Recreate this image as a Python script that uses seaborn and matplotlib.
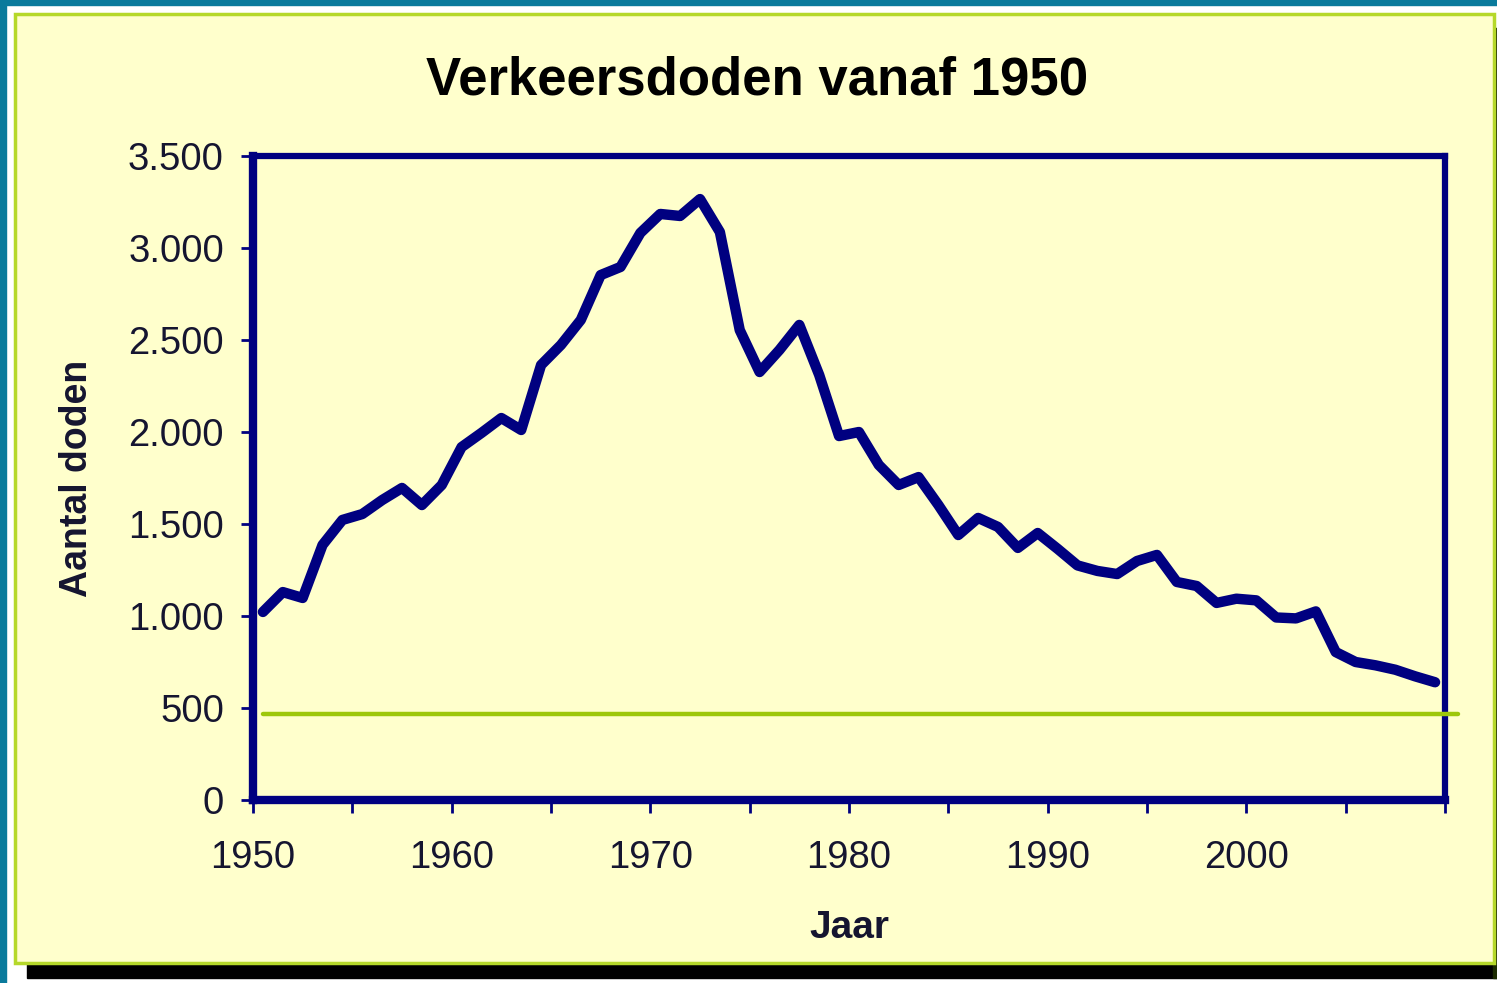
import pandas as pd
import seaborn as sns
import matplotlib.pyplot as plt
from matplotlib.patches import Rectangle

# road deaths in the Netherlands
years = list(range(1950, 2010))
deaths = [1022, 1130, 1098, 1386, 1522, 1554, 1630, 1696, 1603, 1712,
          1918, 1995, 2076, 2011, 2364, 2473, 2609, 2853, 2897, 3082,
          3185, 3174, 3266, 3087, 2554, 2326, 2446, 2582, 2310, 1978,
          2000, 1821, 1712, 1755, 1603, 1440, 1533, 1484, 1370, 1451,
          1365, 1275, 1245, 1228, 1299, 1332, 1185, 1163, 1071, 1094,
          1085, 992, 987, 1025, 804, 750, 732, 708, 672, 640]

y_ticks = [0, 500, 1000, 1500, 2000, 2500, 3000, 3500]
y_tick_labels = ["0", "500", "1.000", "1.500", "2.000", "2.500", "3.000", "3.500"]
x_ticks = list(range(1950, 2011, 5))
x_tick_labels = ["1950", "", "1960", "", "1970", "", "1980", "", "1990", "", "2000", "", ""]
target_level = 470

title = "Verkeersdoden vanaf 1950"
x_label = "Jaar"
y_label = "Aantal doden"

navy = "#000080"
panel = "#FFFFCC"

sns.set_style("white")
plt.rcParams["font.family"] = ["Liberation Sans", "DejaVu Sans"]

W, H = 1497, 983
fig = plt.figure(figsize=(W / 100, H / 100), dpi=100, facecolor="white")

# frame: teal edge, yellow panel with green border, black drop shadow
fig.patches.append(Rectangle((0, 0), 6 / W, 1, transform=fig.transFigure, color="#0A7A9C", zorder=-3))
fig.patches.append(Rectangle((0, 1 - 5 / H), 1, 5 / H, transform=fig.transFigure, color="#0A7A9C", zorder=-3))
fig.patches.append(Rectangle((27 / W, 1 - 978 / H), (W - 27) / W, 16 / H, transform=fig.transFigure,
                             color="black", zorder=-3))
fig.patches.append(Rectangle((1493 / W, 1 - 978 / H), 4 / W, 950 / H, transform=fig.transFigure,
                             color="#1a2a00", zorder=-3))
fig.patches.append(Rectangle((15 / W, 1 - 963 / H), 1479 / W, 949 / H, transform=fig.transFigure,
                             facecolor=panel, edgecolor="#B5D82A", linewidth=2.5, zorder=-2))

ax = fig.add_axes([253 / W, 1 - 800 / H, (1445 - 253) / W, (800 - 156) / H])
ax.set_zorder(2)
ax.set_facecolor(panel)

df = pd.DataFrame({"Jaar": years, "Aantal doden": deaths})
# excel category axis: each year sits in the middle of its slot
df["pos"] = df["Jaar"] + 0.5
sns.lineplot(data=df, x="pos", y="Aantal doden", ax=ax, color=navy, linewidth=7.5,
             solid_joinstyle="round", zorder=3)

ax.axhline(target_level, xmin=0.008, xmax=1.011, color="#9DC70A", linewidth=3.2,
           clip_on=False, zorder=4)

ax.set_xlim(1950, 2010)
ax.set_ylim(0, 3500)
ax.set_yticks(y_ticks)
ax.set_yticklabels(y_tick_labels)
ax.set_xticks(x_ticks)
ax.set_xticklabels(x_tick_labels)

for side in ["left", "right", "top", "bottom"]:
    ax.spines[side].set_color(navy)
    ax.spines[side].set_linewidth(4.5)
ax.spines["bottom"].set_linewidth(6)
ax.spines["left"].set_linewidth(6)

ax.tick_params(axis="both", direction="out", length=9, width=2, color=navy,
               labelsize=27.5, labelcolor="#151530", bottom=True, left=True)
ax.tick_params(axis="y", pad=12)
ax.tick_params(axis="x", pad=20)
ax.grid(False)

ax.set_xlabel(x_label, fontsize=28, fontweight="bold", labelpad=24, color="#151530")
ax.set_ylabel(y_label, fontsize=27, fontweight="bold", labelpad=24, color="#151530")
fig.text(757 / W, 1 - 80 / H, title, ha="center", va="center", fontsize=38,
         fontweight="bold", color="black")

fig.savefig("out.png", dpi=100, facecolor=fig.get_facecolor())
